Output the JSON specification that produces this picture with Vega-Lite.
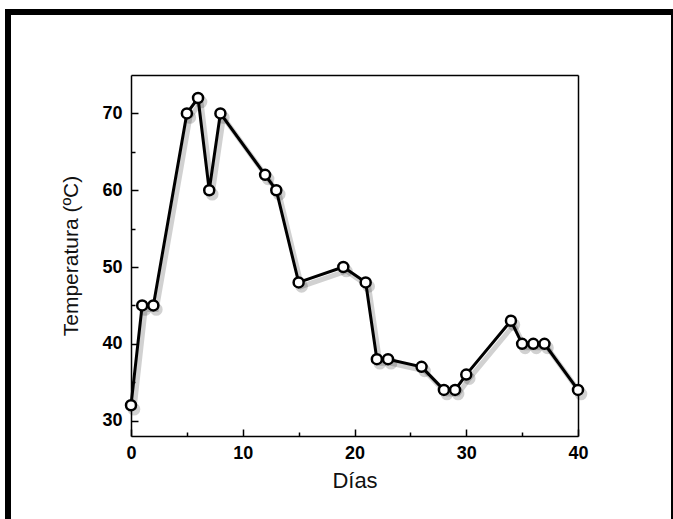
{
  "$schema": "https://vega.github.io/schema/vega-lite/v6.json",
  "width": 666,
  "height": 515,
  "autosize": "none",
  "padding": {"left": 8, "top": 12, "right": 0, "bottom": 0},
  "background": "white",
  "config": {"view": {"stroke": "#000", "strokeWidth": 6}, "font": "Liberation Sans"},
  "data": {"values": [
    {"dia": 0, "temp": 32}, {"dia": 1, "temp": 45}, {"dia": 2, "temp": 45},
    {"dia": 5, "temp": 70}, {"dia": 6, "temp": 72}, {"dia": 7, "temp": 60},
    {"dia": 8, "temp": 70}, {"dia": 12, "temp": 62}, {"dia": 13, "temp": 60},
    {"dia": 15, "temp": 48}, {"dia": 19, "temp": 50}, {"dia": 21, "temp": 48},
    {"dia": 22, "temp": 38}, {"dia": 23, "temp": 38}, {"dia": 26, "temp": 37},
    {"dia": 28, "temp": 34}, {"dia": 29, "temp": 34}, {"dia": 30, "temp": 36},
    {"dia": 34, "temp": 43}, {"dia": 35, "temp": 40}, {"dia": 36, "temp": 40},
    {"dia": 37, "temp": 40}, {"dia": 40, "temp": 34}
  ]},
  "layer": [
    {
      "mark": {"type": "line", "color": "#000", "opacity": 0.18, "strokeWidth": 5, "xOffset": 3, "yOffset": 4,
               "point": {"filled": true, "size": 160, "color": "#000", "opacity": 0.18, "xOffset": 3, "yOffset": 4}},
      "encoding": {
        "x": {"field": "dia", "type": "quantitative",
              "scale": {"domain": [0, 40], "range": [123, 570], "nice": false, "zero": false},
              "axis": {"orient": "top", "offset": -63, "labels": false, "ticks": false, "grid": false, "title": null,
                       "domainColor": "#000", "domainWidth": 1.5}},
        "y": {"field": "temp", "type": "quantitative",
              "scale": {"domain": [28, 75], "range": [424, 63], "nice": false, "zero": false},
              "axis": {"orient": "right", "offset": -96, "labels": false, "ticks": false, "grid": false, "title": null,
                       "domainColor": "#000", "domainWidth": 1.5}}
      }
    },
    {
      "mark": {"type": "line", "color": "#000", "strokeWidth": 3},
      "encoding": {
        "x": {"field": "dia", "type": "quantitative",
              "scale": {"domain": [0, 40], "range": [123, 570], "nice": false, "zero": false},
              "axis": {"orient": "bottom", "offset": -91, "values": [0, 10, 20, 30, 40], "tickSize": -7, "tickWidth": 1.5,
                       "tickColor": "#000", "domainColor": "#000", "domainWidth": 1.5, "grid": false,
                       "labelFont": "Liberation Sans", "labelFontWeight": "bold", "labelFontSize": 18, "labelColor": "#000",
                       "labelPadding": 15, "labelFlush": false,
                       "title": "Días", "titleFont": "Liberation Sans", "titleFontSize": 22, "titleFontWeight": "normal",
                       "titleColor": "#111", "titlePadding": 8}},
        "y": {"field": "temp", "type": "quantitative",
              "scale": {"domain": [28, 75], "range": [424, 63], "nice": false, "zero": false},
              "axis": {"orient": "left", "offset": -123, "values": [30, 40, 50, 60, 70], "tickSize": -7, "tickWidth": 1.5,
                       "tickColor": "#000", "domainColor": "#000", "domainWidth": 1.5, "grid": false,
                       "labelFont": "Liberation Sans", "labelFontWeight": "bold", "labelFontSize": 18, "labelColor": "#000",
                       "labelPadding": 16, "labelFlush": false,
                       "title": "Temperatura (ºC)", "titleFont": "Liberation Sans", "titleFontSize": 21, "titleFontWeight": "normal",
                       "titleColor": "#111", "titlePadding": 20}}
      }
    },
    {
      "mark": {"type": "point", "filled": true, "fill": "white", "stroke": "#000", "strokeWidth": 2.5, "size": 100, "opacity": 1},
      "encoding": {
        "x": {"field": "dia", "type": "quantitative",
              "scale": {"domain": [0, 40], "range": [123, 570], "nice": false, "zero": false},
              "axis": {"orient": "bottom", "offset": -91, "values": [5, 15, 25, 35], "tickSize": -4, "tickWidth": 1.5,
                       "tickColor": "#000", "domain": false, "labels": false, "grid": false, "title": null}},
        "y": {"field": "temp", "type": "quantitative",
              "scale": {"domain": [28, 75], "range": [424, 63], "nice": false, "zero": false},
              "axis": {"orient": "left", "offset": -123, "values": [35, 45, 55, 65], "tickSize": -4, "tickWidth": 1.5,
                       "tickColor": "#000", "domain": false, "labels": false, "grid": false, "title": null}}
      }
    }
  ],
  "resolve": {"axis": {"x": "independent", "y": "independent"}}
}
